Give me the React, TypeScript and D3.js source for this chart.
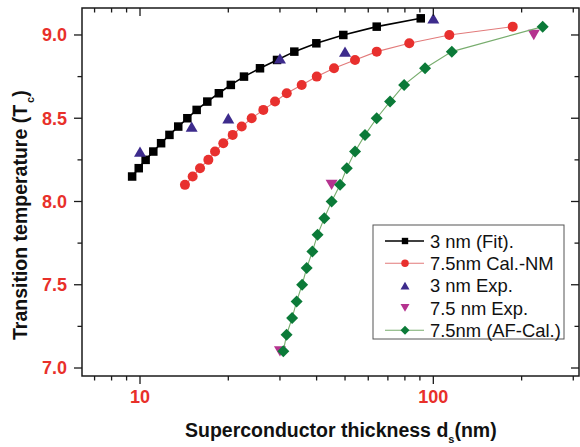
import React from 'react';
import * as d3 from 'd3';

// 3 nm (Fit).
const fitX = [9.4, 9.9, 10.45, 11.1, 11.8, 12.6, 13.5, 14.5, 15.6, 16.96, 18.57, 20.4, 22.62, 25.65, 29.32, 33.58, 39.92, 49.33, 64.12, 90.6];
const fitY = [8.15, 8.2, 8.25, 8.3, 8.35, 8.4, 8.45, 8.5, 8.55, 8.6, 8.65, 8.7, 8.75, 8.8, 8.85, 8.9, 8.95, 9.0, 9.05, 9.1];
// 7.5nm Cal.-NM
const calX = [14.23, 15.12, 16.02, 17.1, 18.02, 19.23, 20.7, 22.22, 24.03, 26.33, 28.86, 31.64, 35.58, 40.05, 45.86, 54.08, 64.13, 82.8, 113.4, 186.5];
const calY = [8.1, 8.15, 8.2, 8.25, 8.3, 8.35, 8.4, 8.45, 8.5, 8.55, 8.6, 8.65, 8.7, 8.75, 8.8, 8.85, 8.9, 8.95, 9.0, 9.05];
// 3 nm Exp.
const exp3X = [10, 15, 20, 30, 50, 100];
const exp3Y = [8.3, 8.45, 8.5, 8.86, 8.9, 9.1];
// 7.5 nm Exp.
const exp75X = [30, 45, 220];
const exp75Y = [7.1, 8.1, 9.0];
// 7.5nm (AF-Cal.)
const afX = [30.8, 31.6, 33.0, 34.2, 35.7, 37.0, 38.7, 40.3, 42.5, 45.0, 48.1, 50.7, 54.1, 58.5, 64.1, 71.2, 79.5, 93.7, 115.6, 236];
const afY = [7.1, 7.2, 7.3, 7.4, 7.5, 7.6, 7.7, 7.8, 7.9, 8.0, 8.1, 8.2, 8.3, 8.4, 8.5, 8.6, 8.7, 8.8, 8.9, 9.05];

const xMajor = [10, 100];
const xMinor = [7, 8, 9, 20, 30, 40, 50, 60, 70, 80, 90, 200, 300];
const yMajor = [7.0, 7.5, 8.0, 8.5, 9.0];
const yMinor = [7.25, 7.75, 8.25, 8.75];

const legendLabels = ['3 nm (Fit).', '7.5nm Cal.-NM', '3 nm Exp.', '7.5 nm Exp.', '7.5nm (AF-Cal.)'];

const W = 580, H = 447;
const L = 82, R = 579, T = 8, B = 376;
const TICKC = '#e8302a';

const x = d3.scaleLog().domain([6.342, 313.8]).range([L, R]);
const y = d3.scaleLinear().domain([6.952, 9.162]).range([B, T]);

type Sym = 'square' | 'circle' | 'tri' | 'itri' | 'diamond';

function Marker({ cx, cy, sym, fill, s }: { cx: number; cy: number; sym: Sym; fill: string; s: number }) {
  if (sym === 'square') return <rect x={cx - s / 2} y={cy - s / 2} width={s} height={s} fill={fill} />;
  if (sym === 'circle') return <circle cx={cx} cy={cy} r={s / 2} fill={fill} />;
  if (sym === 'diamond') {
    const h = s / 2;
    return <path d={`M${cx},${cy - h}L${cx + h},${cy}L${cx},${cy + h}L${cx - h},${cy}Z`} fill={fill} />;
  }
  const w = s / 2, hh = s * 0.43;
  if (sym === 'tri') return <path d={`M${cx},${cy - hh}L${cx + w},${cy + hh}L${cx - w},${cy + hh}Z`} fill={fill} />;
  return <path d={`M${cx},${cy + hh}L${cx + w},${cy - hh}L${cx - w},${cy - hh}Z`} fill={fill} />;
}

const series = [
  { xs: fitX, ys: fitY, sym: 'square' as Sym, fill: '#000', line: '#000', lw: 1.6, s: 8.5 },
  { xs: calX, ys: calY, sym: 'circle' as Sym, fill: '#e8302e', line: '#e27a7a', lw: 1.1, s: 10 },
  { xs: exp3X, ys: exp3Y, sym: 'tri' as Sym, fill: '#3d2b8c', line: null, lw: 0, s: 12 },
  { xs: exp75X, ys: exp75Y, sym: 'itri' as Sym, fill: '#b5338f', line: null, lw: 0, s: 12 },
  { xs: afX, ys: afY, sym: 'diamond' as Sym, fill: '#0b7a38', line: '#78ad6e', lw: 1.1, s: 12 },
];

export default function App() {
  const font = 'Arial, "Liberation Sans", Helvetica, sans-serif';
  return (
    <div style={{ position: 'absolute', left: 0, top: 0 }}>
      <svg width={W} height={H} style={{ display: 'block', background: '#fff' }} fontFamily={font}>
        {series.map((sr, i) => {
          const pts = sr.xs.map((v, j) => [x(v), y(sr.ys[j])] as [number, number]);
          return (
            <g key={i}>
              {sr.line && <path d={d3.line()(pts) || ''} fill="none" stroke={sr.line} strokeWidth={sr.lw} />}
              {pts.map((p, j) => (
                <Marker key={j} cx={p[0]} cy={p[1]} sym={sr.sym} fill={sr.fill} s={sr.s} />
              ))}
            </g>
          );
        })}
        <rect x={L} y={T} width={R - L} height={B - T} fill="none" stroke="#1a1a1a" strokeWidth={1.5} />
        {xMajor.map((v) => (
          <g key={'xm' + v}>
            <line x1={x(v)} x2={x(v)} y1={B} y2={B + 8} stroke="#1a1a1a" strokeWidth={1.3} />
            <line x1={x(v)} x2={x(v)} y1={T} y2={T + 8} stroke="#1a1a1a" strokeWidth={1.3} />
            <text x={x(v)} y={403} textAnchor="middle" fill={TICKC} fontWeight="bold" fontSize={18}>
              {v}
            </text>
          </g>
        ))}
        {xMinor.map((v) => (
          <g key={'xn' + v}>
            <line x1={x(v)} x2={x(v)} y1={B} y2={B + 4.5} stroke="#1a1a1a" strokeWidth={1.3} />
            <line x1={x(v)} x2={x(v)} y1={T} y2={T + 4.5} stroke="#1a1a1a" strokeWidth={1.3} />
          </g>
        ))}
        {yMajor.map((v) => (
          <g key={'ym' + v}>
            <line x1={L - 8} x2={L} y1={y(v)} y2={y(v)} stroke="#1a1a1a" strokeWidth={1.3} />
            <line x1={R - 8} x2={R} y1={y(v)} y2={y(v)} stroke="#1a1a1a" strokeWidth={1.3} />
            <text x={67} y={y(v)} dy="0.36em" textAnchor="end" fill={TICKC} fontWeight="bold" fontSize={18}>
              {v.toFixed(1)}
            </text>
          </g>
        ))}
        {yMinor.map((v) => (
          <g key={'yn' + v}>
            <line x1={L - 4.5} x2={L} y1={y(v)} y2={y(v)} stroke="#1a1a1a" strokeWidth={1.3} />
            <line x1={R - 4.5} x2={R} y1={y(v)} y2={y(v)} stroke="#1a1a1a" strokeWidth={1.3} />
          </g>
        ))}
        <text x={185} y={437} fontWeight="bold" fontSize={19.5} fill="#111">
          Superconductor thickness d<tspan fontSize={11} dy={6}>s</tspan>
          <tspan dy={-6}>(nm)</tspan>
        </text>
        <text transform="translate(27,340) rotate(-90)" fontWeight="bold" fontSize={19.5} fill="#111">
          Transition temperature (T<tspan fontSize={11} dy={7} dx={2}>c</tspan>
          <tspan dy={-7}>)</tspan>
        </text>
        <rect x={373} y={225} width={191} height={114} fill="#fff" stroke="#555" strokeWidth={1} />
        {legendLabels.map((lab, i) => {
          const ly = 241 + i * 22.3;
          const sr = series[i];
          return (
            <g key={lab}>
              {sr.line && <line x1={385} x2={424} y1={ly} y2={ly} stroke={sr.line} strokeWidth={sr.lw} />}
              <Marker cx={405} cy={ly} sym={sr.sym} fill={sr.fill} s={sr.s * 0.75} />
              <text x={430} y={ly} dy="0.36em" fontSize={18.4} fill="#111">
                {lab}
              </text>
            </g>
          );
        })}
      </svg>
    </div>
  );
}
